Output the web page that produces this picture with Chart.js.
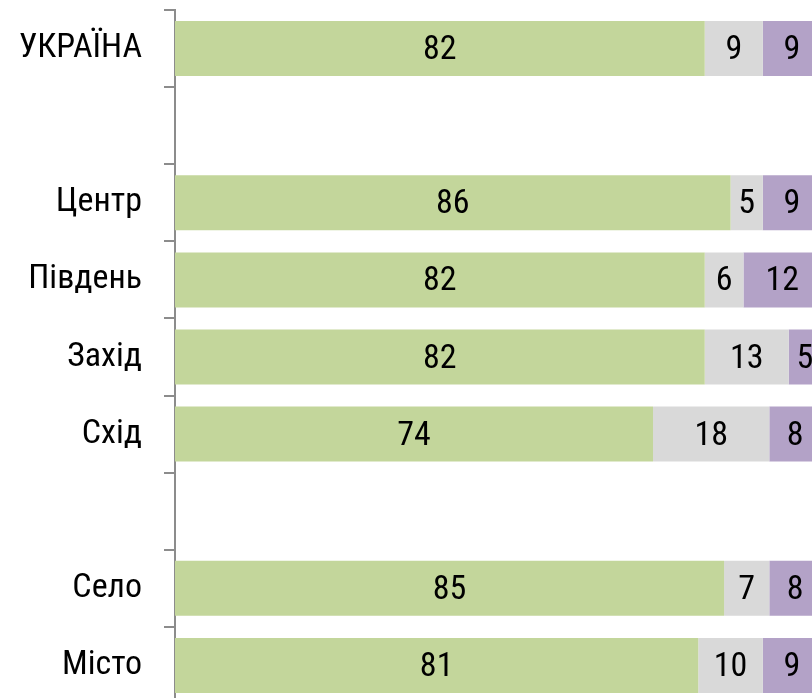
<!DOCTYPE html>
<html>
<head>
<meta charset="utf-8">
<script src="https://cdn.jsdelivr.net/npm/chart.js@4.4.0/dist/chart.umd.min.js"></script>
<style>
  html, body { margin: 0; padding: 0; background: #fff; overflow: hidden; }
  #wrap { position: absolute; left: 0; top: 0; width: 830px; height: 712px; }
</style>
</head>
<body>
<div id="wrap"><canvas id="myChart"></canvas></div>
<script>
// rows of the chart (empty strings are spacer rows)
const categories = ['УКРАЇНА', '', 'Центр', 'Південь', 'Захід', 'Схід', '', 'Село', 'Місто']
const yes = [82, null, 86, 82, 82, 74, null, 85, 81]
const hard = [9, null, 5, 6, 13, 18, null, 7, 10]
const no = [9, null, 9, 12, 5, 8, null, 8, 9]

const FONT = "'Liberation Sans Narrow', 'Arial Narrow', 'Roboto Condensed', sans-serif"

// draws the value in the middle of every segment
const segmentLabels = {
    id: 'segmentLabels',
    afterDatasetsDraw(chart) {
        const ctx = chart.ctx
        ctx.save()
        ctx.font = '34px ' + FONT
        ctx.fillStyle = '#000'
        ctx.textAlign = 'center'
        ctx.textBaseline = 'middle'
        chart.data.datasets.forEach((ds, i) => {
            const meta = chart.getDatasetMeta(i)
            meta.data.forEach((bar, j) => {
                const v = ds.data[j]
                if (v === null || v === undefined) return
                const cx = (bar.x + bar.base) / 2
                ctx.fillText(String(v), cx, bar.y + 2)
            })
        })
        ctx.restore()
    }
}

const ctx = document.getElementById('myChart')
const myChart = new Chart(ctx, {
    type: 'bar',
    data: {
        labels: categories,
        datasets: [{
            label: 'yes',
            data: yes,
            backgroundColor: '#C3D69B'
        },
        {
            label: 'hard',
            data: hard,
            backgroundColor: '#D9D9D9'
        },
        {
            label: 'no',
            data: no,
            backgroundColor: '#B3A2C7'
        }]
    },
    options: {
        indexAxis: 'y',
        responsive: true,
        maintainAspectRatio: false,
        animation: false,
        categoryPercentage: 1,
        barPercentage: 0.713,
        layout: {
            padding: { top: 10, right: 9, bottom: 8, left: 0 }
        },
        plugins: {
            legend: { display: false },
            tooltip: { enabled: false }
        },
        scales: {
            x: {
                stacked: true,
                display: false,
                min: 0,
                max: 100
            },
            y: {
                stacked: true,
                afterFit: (scale) => {
                    scale.width = 175
                    scale.paddingTop = 0
                    scale.paddingBottom = 0
                },
                grid: {
                    offset: true,
                    drawOnChartArea: false,
                    tickLength: 11,
                    color: '#8C8C8C',
                    lineWidth: 2
                },
                border: {
                    color: '#8C8C8C',
                    width: 2
                },
                ticks: {
                    padding: 22,
                    color: '#000',
                    font: { family: FONT, size: 34 }
                }
            }
        }
    },
    plugins: [segmentLabels]
});
</script>
</body>
</html>
